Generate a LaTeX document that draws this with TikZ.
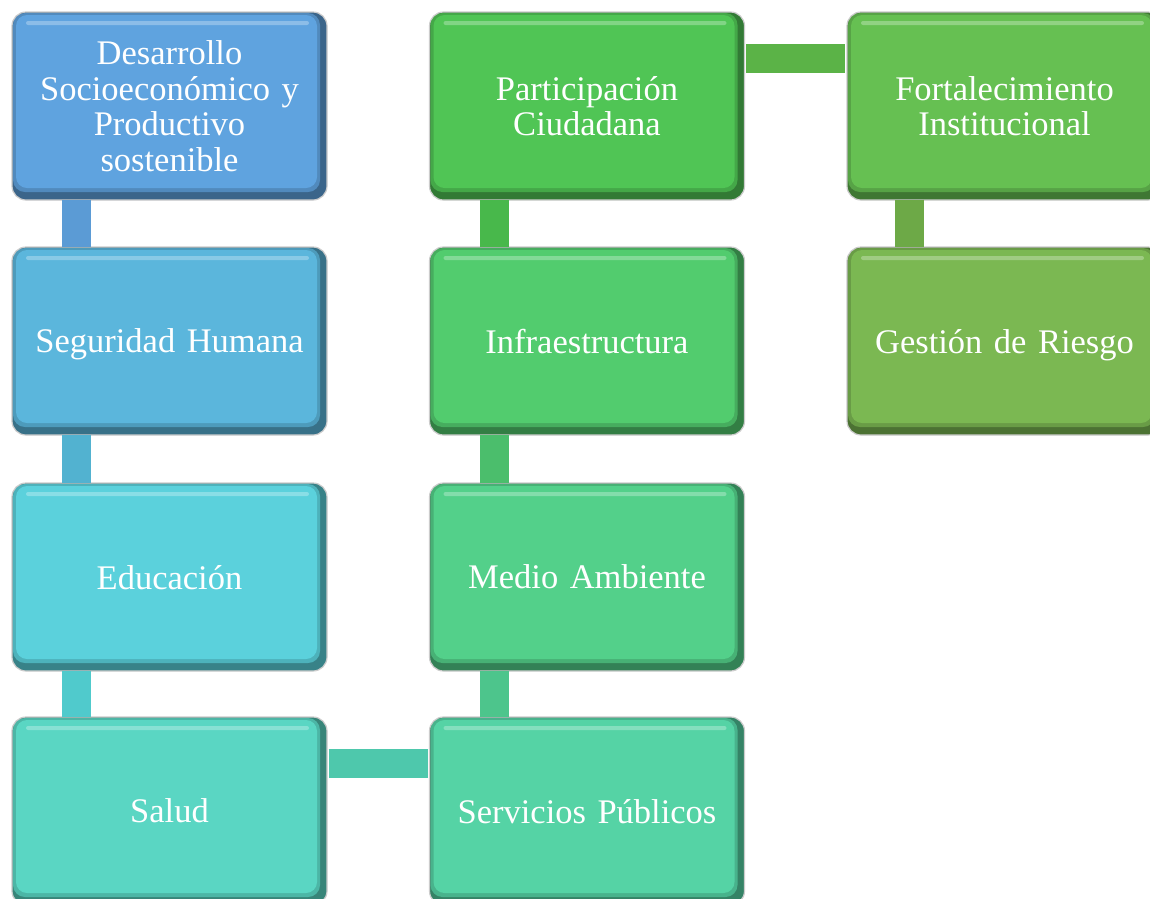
\documentclass[tikz,border=0pt]{standalone}
\usepackage{fontspec}
\setmainfont{Liberation Serif}
\definecolor{cA}{HTML}{5FA3DF}
\definecolor{cB}{HTML}{5BB6DC}
\definecolor{cC}{HTML}{5BD1DC}
\definecolor{cD}{HTML}{5AD6C3}
\definecolor{cE}{HTML}{55D3A5}
\definecolor{cF}{HTML}{53D08A}
\definecolor{cG}{HTML}{52CC6E}
\definecolor{cH}{HTML}{50C555}
\definecolor{cI}{HTML}{66C052}
\definecolor{cJ}{HTML}{7BB852}
\definecolor{kA}{HTML}{5B9BD5}
\definecolor{kB}{HTML}{52B2D0}
\definecolor{kC}{HTML}{50CACC}
\definecolor{kD}{HTML}{4EC8AC}
\definecolor{kE}{HTML}{4DC58C}
\definecolor{kF}{HTML}{4BBE6C}
\definecolor{kG}{HTML}{48B84B}
\definecolor{kH}{HTML}{5BB347}
\definecolor{kI}{HTML}{6DA947}
\tikzset{
  bx/.style={rounded corners=14pt, minimum width=315pt, minimum height=188pt,
    draw=gray!40, line width=1.2pt, fill=#1!62!black, text=white, align=center,
    inner sep=0pt, text width=305pt,
    font=\fontsize{34.5}{35.5}\selectfont,
    path picture={
      \fill[#1!85!black, rounded corners=12pt]
        ([shift={(1pt,-1pt)}]path picture bounding box.north west) rectangle
        ([shift={(-7pt,8pt)}]path picture bounding box.south east);
      \fill[#1, rounded corners=11pt]
        ([shift={(4pt,-3pt)}]path picture bounding box.north west) rectangle
        ([shift={(-10pt,12pt)}]path picture bounding box.south east);
      \fill[#1!72!white, rounded corners=2pt]
        ([shift={(14pt,-9pt)}]path picture bounding box.north west) rectangle
        ([shift={(-18pt,-13pt)}]path picture bounding box.north east);
    }},
  one/.style={text depth=0pt},
  conn/.style={draw=#1, line width=29pt, line cap=butt}
}
\begin{document}
\begin{tikzpicture}[x=1pt,y=-1pt]
\useasboundingbox[fill=white] (0,0) rectangle (1150,898);
\node[bx=cA] (des) at (169.5,106) {Desarrollo\\Socioeconómico y\\Productivo\\sostenible};
\node[bx=cB,one] (seg) at (169.5,341) {Seguridad Humana};
\node[bx=cC,one] (edu) at (169.5,577) {Educación};
\node[bx=cD,one] (sal) at (169.5,811) {Salud};
\node[bx=cE,one] (ser) at (587,811) {Servicios Públicos};
\node[bx=cF,one] (med) at (587,577) {Medio Ambiente};
\node[bx=cG,one] (inf) at (587,341) {Infraestructura};
\node[bx=cH] (par) at (587,106) {Participación\\Ciudadana};
\node[bx=cI] (fort) at (1004.5,106) {Fortalecimiento\\Institucional};
\node[bx=cJ,one] (ges) at (1004.5,341) {Gestión de Riesgo};
\draw[conn=kA] ([xshift=-93pt,yshift=1pt]des.south) -- ([xshift=-93pt,yshift=-1pt]seg.north);
\draw[conn=kB] ([xshift=-93pt,yshift=1pt]seg.south) -- ([xshift=-93pt,yshift=-1pt]edu.north);
\draw[conn=kC] ([xshift=-93pt,yshift=1pt]edu.south) -- ([xshift=-93pt,yshift=-1pt]sal.north);
\draw[conn=kD] ([yshift=47.5pt,xshift=1pt]sal.east) -- ([yshift=47.5pt,xshift=-1pt]ser.west);
\draw[conn=kE] ([xshift=-93pt,yshift=-1pt]ser.north) -- ([xshift=-93pt,yshift=1pt]med.south);
\draw[conn=kF] ([xshift=-93pt,yshift=-1pt]med.north) -- ([xshift=-93pt,yshift=1pt]inf.south);
\draw[conn=kG] ([xshift=-93pt,yshift=-1pt]inf.north) -- ([xshift=-93pt,yshift=1pt]par.south);
\draw[conn=kH] ([yshift=48pt,xshift=1pt]par.east) -- ([yshift=48pt,xshift=-1pt]fort.west);
\draw[conn=kI] ([xshift=-95pt,yshift=1pt]fort.south) -- ([xshift=-95pt,yshift=-1pt]ges.north);
\end{tikzpicture}
\end{document}
